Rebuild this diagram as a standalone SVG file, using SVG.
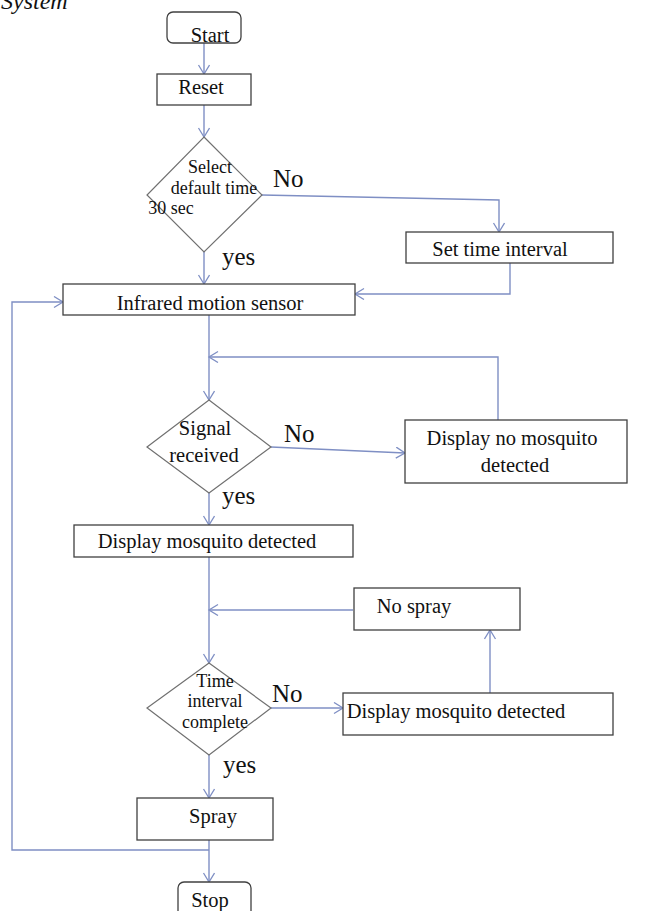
<svg xmlns="http://www.w3.org/2000/svg" width="645" height="911" viewBox="0 0 645 911">
<defs>
<marker id="ah" markerUnits="userSpaceOnUse" markerWidth="14" markerHeight="14" refX="10" refY="6" orient="auto">
<path d="M1,0.5 L10,6 L1,11.5" fill="none" stroke="#7f8fc4" stroke-width="1.3"/>
</marker>
<style>
.box{fill:#fff;stroke:#404040;stroke-width:1.3}
.dia{fill:#fff;stroke:#707070;stroke-width:1.2}
.t{font-family:"Liberation Serif","Times New Roman",serif;font-size:20.5px;fill:#111;text-anchor:middle}
.d{font-family:"Liberation Serif","Times New Roman",serif;font-size:18px;fill:#111;text-anchor:middle}
.lb{font-family:"Liberation Serif","Times New Roman",serif;font-size:25px;fill:#111}
.c{fill:none;stroke:#7f8fc4;stroke-width:1.4}
</style>
</defs>
<rect width="645" height="911" fill="#fff"/>
<text x="1" y="9" font-family="Liberation Serif, serif" font-style="italic" font-size="24" fill="#111">System</text>

<g id="connectors">
<path class="c" d="M204,43 V74" marker-end="url(#ah)"/>
<path class="c" d="M204,105 V137" marker-end="url(#ah)"/>
<path class="c" d="M204,252 V284" marker-end="url(#ah)"/>
<path class="c" d="M262,195 L499,200 V232" marker-end="url(#ah)"/>
<path class="c" d="M510,263 V294 H355" marker-end="url(#ah)"/>
<path class="c" d="M209,315 V400" marker-end="url(#ah)"/>
<path class="c" d="M498,420 V357 H209" marker-end="url(#ah)"/>
<path class="c" d="M271,447 L405,453" marker-end="url(#ah)"/>
<path class="c" d="M209,493 V525" marker-end="url(#ah)"/>
<path class="c" d="M209,557 V663" marker-end="url(#ah)"/>
<path class="c" d="M353,610 H209" marker-end="url(#ah)"/>
<path class="c" d="M271,708 H343" marker-end="url(#ah)"/>
<path class="c" d="M490,693 V630" marker-end="url(#ah)"/>
<path class="c" d="M209,755 V798" marker-end="url(#ah)"/>
<path class="c" d="M209,840 V882" marker-end="url(#ah)"/>
<path class="c" d="M209,850 H12 V302 H63" marker-end="url(#ah)"/>
</g>

<g id="start">
<rect class="box" x="167" y="12" width="74" height="31" rx="6"/>
<text class="t" x="210" y="42">Start</text>
</g>
<g id="reset">
<rect class="box" x="157" y="74" width="94" height="31"/>
<text class="t" x="201" y="94">Reset</text>
</g>
<g id="select-default">
<polygon class="dia" points="204,137 262,195 204,252 147,195"/>
<text class="d" x="210" y="173">Select</text>
<text class="d" x="214" y="194">default time</text>
<text class="d" x="171" y="214" text-anchor="start">30 sec</text>
</g>
<g id="set-time">
<rect class="box" x="406" y="232" width="207" height="31"/>
<text class="t" x="500" y="256">Set time interval</text>
</g>
<g id="infrared">
<rect class="box" x="63" y="284" width="292" height="31"/>
<text class="t" x="210" y="310">Infrared motion sensor</text>
</g>
<g id="signal">
<polygon class="dia" points="209,400 271,447 209,493 147,447"/>
<text class="t" x="205" y="435">Signal</text>
<text class="t" x="204" y="462">received</text>
</g>
<g id="display-no">
<rect class="box" x="405" y="420" width="222" height="63"/>
<text class="t" x="512" y="445">Display no mosquito</text>
<text class="t" x="515" y="472">detected</text>
</g>
<g id="display-detected">
<rect class="box" x="74" y="525" width="279" height="32"/>
<text class="t" x="207" y="548">Display mosquito detected</text>
</g>
<g id="no-spray">
<rect class="box" x="354" y="588" width="166" height="42"/>
<text class="t" x="414" y="613">No spray</text>
</g>
<g id="time-interval">
<polygon class="dia" points="209,663 271,708 209,755 147,708"/>
<text class="d" x="215" y="687">Time</text>
<text class="d" x="215" y="707">interval</text>
<text class="d" x="215" y="728">complete</text>
</g>
<g id="display-detected-2">
<rect class="box" x="343" y="693" width="270" height="42"/>
<text class="t" x="456" y="718">Display mosquito detected</text>
</g>
<g id="spray">
<rect class="box" x="137" y="798" width="136" height="42"/>
<text class="t" x="213" y="823">Spray</text>
</g>
<g id="stop">
<rect class="box" x="178" y="882" width="73" height="45" rx="6"/>
<text class="t" x="210" y="907">Stop</text>
</g>

<g id="labels">
<text class="lb" x="273" y="187">No</text>
<text class="lb" x="222" y="265">yes</text>
<text class="lb" x="284" y="442">No</text>
<text class="lb" x="222" y="504">yes</text>
<text class="lb" x="272" y="702">No</text>
<text class="lb" x="223" y="773">yes</text>
</g>
</svg>
